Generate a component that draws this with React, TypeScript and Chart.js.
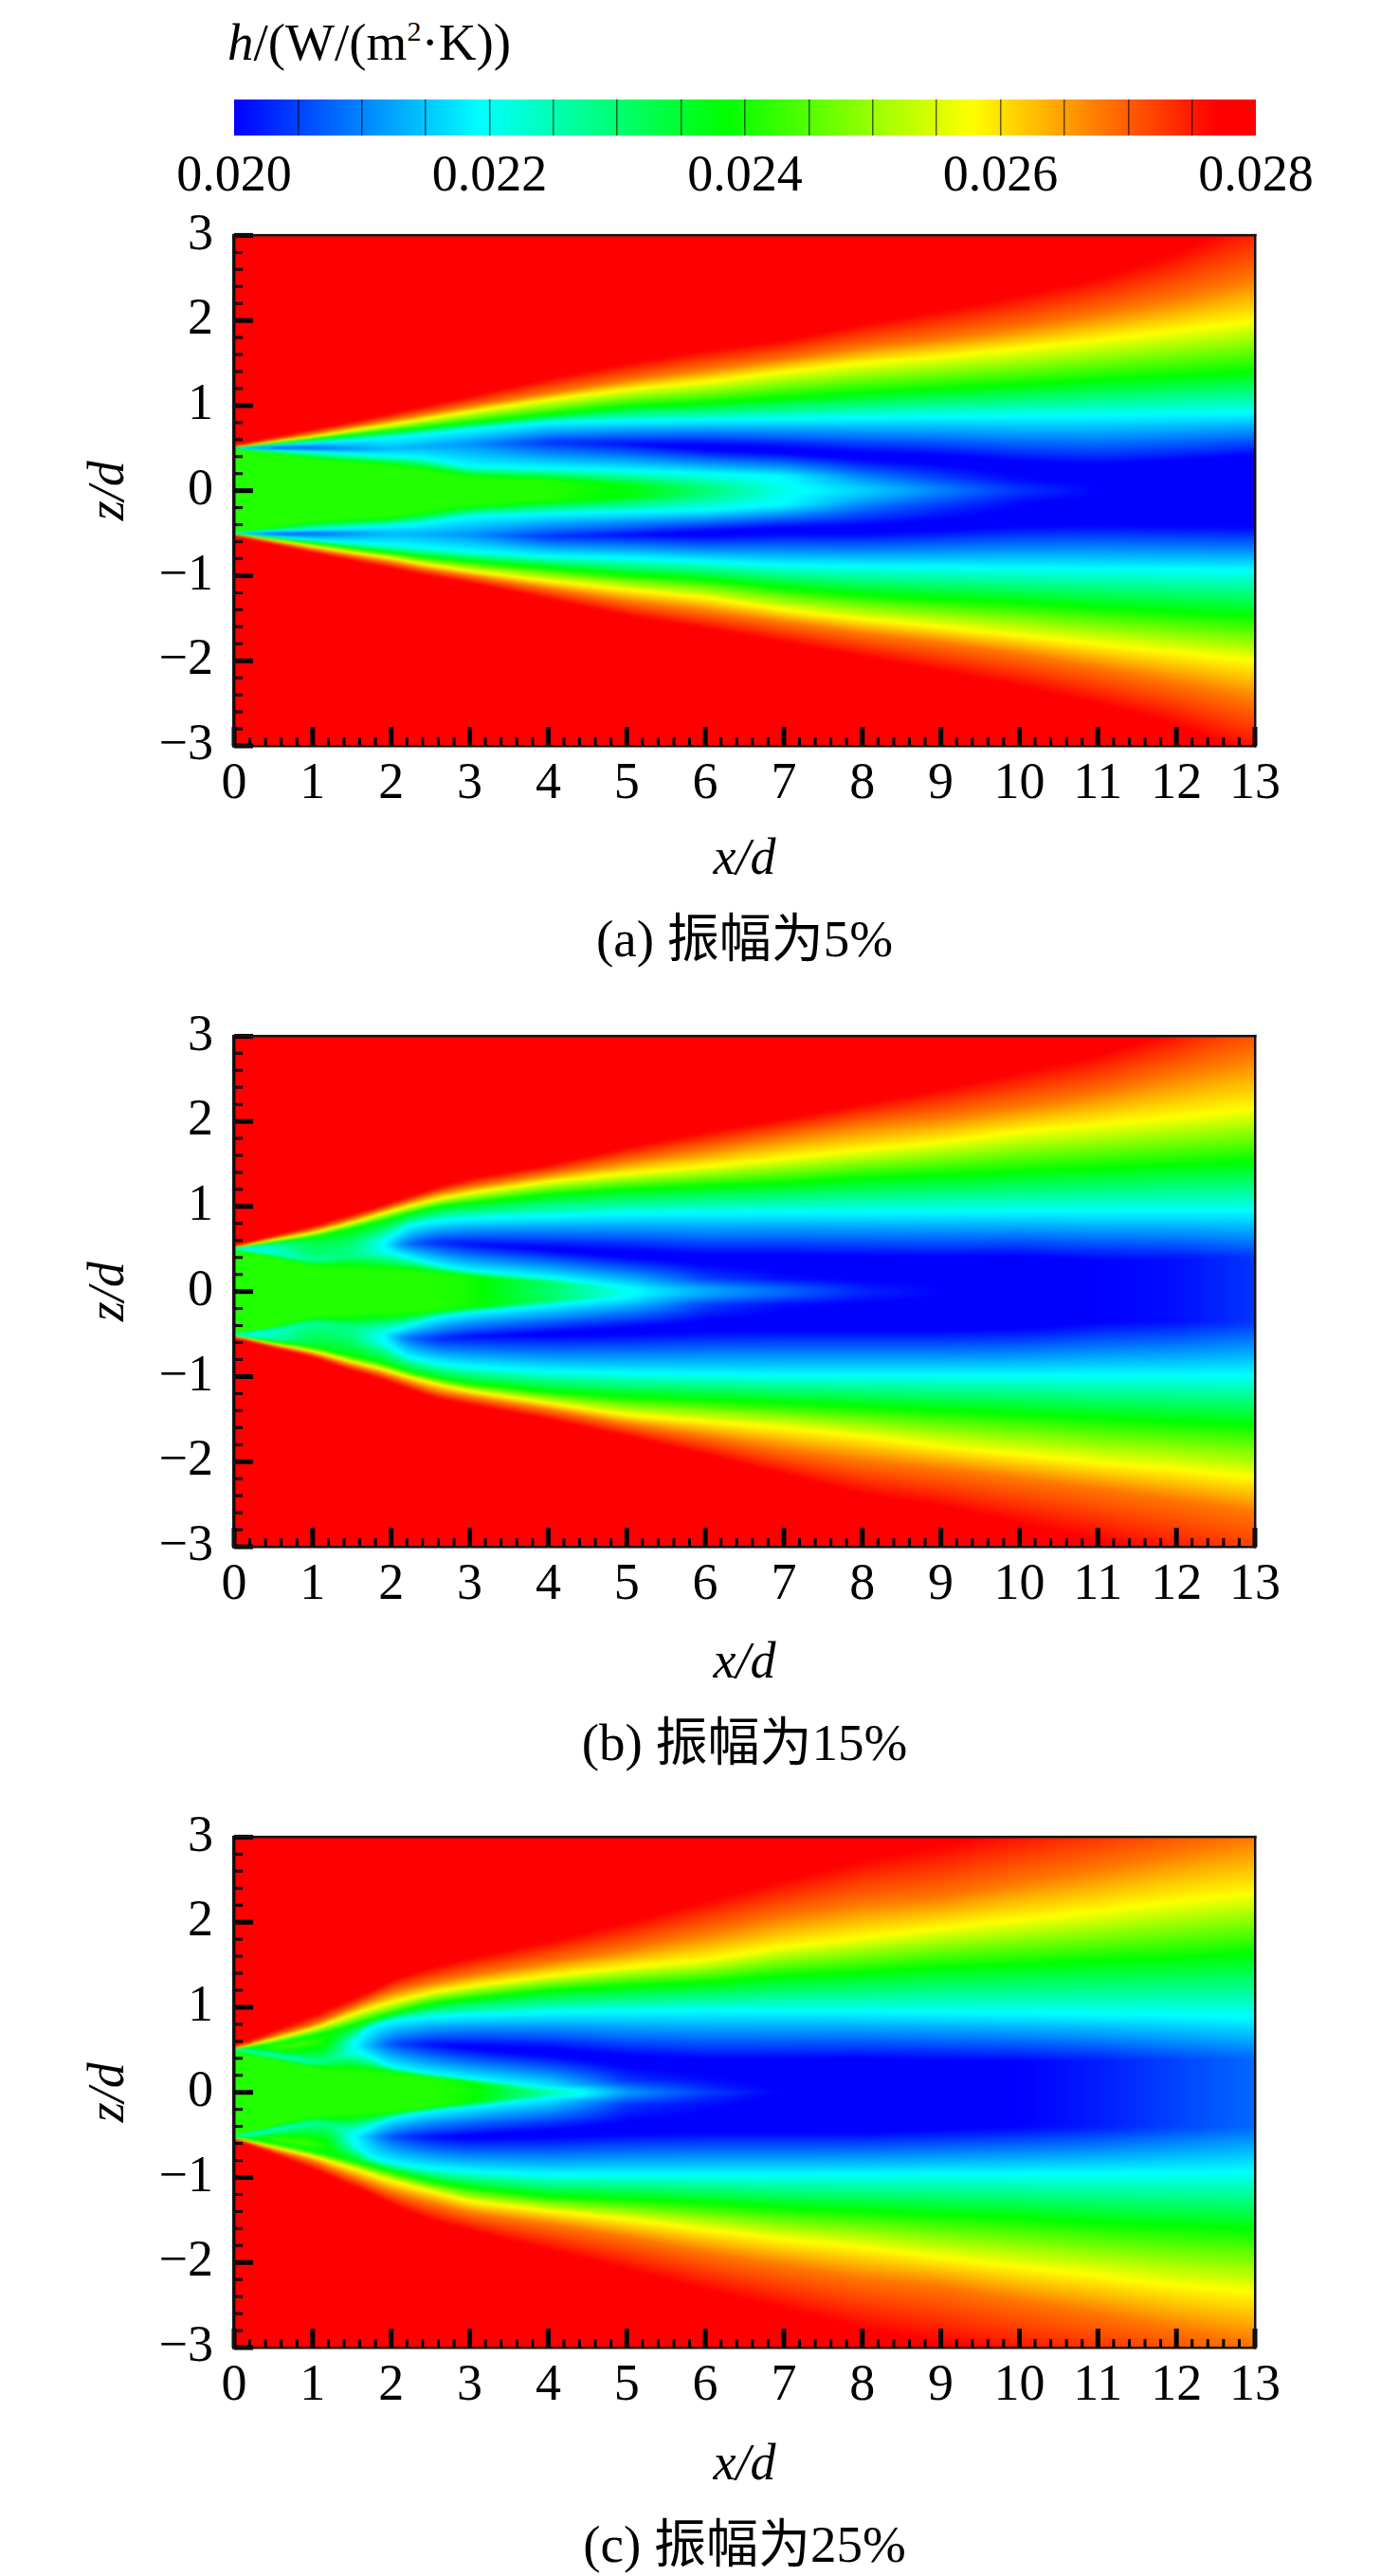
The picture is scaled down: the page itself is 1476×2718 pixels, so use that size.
import React, { useEffect, useRef } from "react";
import { Chart, registerables } from "chart.js";

Chart.register(...registerables);

// ---------- colour scale ----------
const barMin = 0.02;
const barMax = 0.028;
const barLevels = [0.02, 0.0205, 0.021, 0.0215, 0.022, 0.0225, 0.023, 0.0235, 0.024, 0.0245, 0.025, 0.0255, 0.026, 0.0265, 0.027, 0.0275, 0.028];
const stopValues = [0.02, 0.021925, 0.02385, 0.025775, 0.0277, 0.028];
const stopColors = [[0, 0, 255], [0, 255, 255], [0, 255, 0], [255, 255, 0], [255, 0, 0], [255, 0, 0]];
const hRed = 0.0277;
const hOrange = 0.0268;
const hYellow = 0.025775;
const hGreen = 0.02385;

// ---------- panel (a) 5% : z of each iso-band curve at each x station ----------
const xA = [0, 0.5, 1, 1.5, 2, 2.4, 3, 4, 5, 6, 7, 8, 9, 10, 11, 12, 13];
const aRedU = [0.53, 0.63, 0.72, 0.81, 0.91, 0.99, 1.11, 1.32, 1.5, 1.65, 1.77, 1.96, 2.12, 2.3, 2.5, 2.8, 3.2];
const aOrangeU = [0.515, 0.595, 0.67, 0.75, 0.83, 0.895, 0.995, 1.15, 1.3, 1.43, 1.55, 1.69, 1.79, 1.92, 2.08, 2.26, 2.5];
const aYellowU = [0.51, 0.575, 0.635, 0.71, 0.78, 0.84, 0.93, 1.07, 1.19, 1.28, 1.4, 1.5, 1.58, 1.67, 1.77, 1.88, 2.0];
const aGreenU = [0.505, 0.555, 0.605, 0.655, 0.7, 0.74, 0.8, 0.895, 0.99, 1.03, 1.09, 1.15, 1.2, 1.245, 1.3, 1.35, 1.4];
const aCyanU = [0.5, 0.535, 0.565, 0.595, 0.625, 0.66, 0.72, 0.8, 0.82, 0.83, 0.84, 0.855, 0.865, 0.875, 0.885, 0.9, 0.915];
const aMinU = [0.5, 0.5, 0.5, 0.495, 0.49, 0.52, 0.55, 0.565, 0.55, 0.51, 0.47, 0.41, 0.37, 0.29, 0.25, 0.3, 0.37];
const aInCyanU = [0.495, 0.48, 0.46, 0.435, 0.41, 0.39, 0.285, 0.265, 0.24, 0.205, 0.17, 0.17, 0.15, 0.12, 0.1, 0.1, 0.1];
const aInGreenU = [0.49, 0.43, 0.37, 0.33, 0.295, 0.25, 0.16, 0.12, 0.06, 0.05, 0.05, 0.05, 0.05, 0.05, 0.05, 0.05, 0.05];
const aInGreenL = [-0.49, -0.425, -0.365, -0.335, -0.31, -0.25, -0.17, -0.11, -0.07, -0.05, -0.05, -0.05, -0.05, -0.05, -0.05, -0.05, -0.05];
const aInCyanL = [-0.495, -0.48, -0.46, -0.44, -0.415, -0.385, -0.305, -0.27, -0.25, -0.23, -0.17, -0.17, -0.15, -0.12, -0.1, -0.1, -0.1];
const aMinL = [-0.5, -0.5, -0.5, -0.5, -0.5, -0.51, -0.52, -0.54, -0.52, -0.5, -0.46, -0.46, -0.42, -0.365, -0.345, -0.36, -0.37];
const aCyanL = [-0.5, -0.54, -0.58, -0.61, -0.64, -0.67, -0.71, -0.77, -0.79, -0.83, -0.87, -0.885, -0.895, -0.905, -0.915, -0.92, -0.93];
const aGreenL = [-0.505, -0.56, -0.615, -0.675, -0.73, -0.78, -0.83, -0.905, -0.985, -1.04, -1.14, -1.22, -1.27, -1.31, -1.37, -1.42, -1.47];
const aYellowL = [-0.51, -0.585, -0.655, -0.725, -0.79, -0.86, -0.945, -1.06, -1.16, -1.255, -1.4, -1.51, -1.6, -1.7, -1.8, -1.9, -2.0];
const aOrangeL = [-0.515, -0.6, -0.685, -0.765, -0.84, -0.915, -1.0, -1.15, -1.3, -1.42, -1.55, -1.68, -1.79, -1.92, -2.08, -2.26, -2.48];
const aRedL = [-0.53, -0.63, -0.73, -0.82, -0.91, -0.99, -1.08, -1.275, -1.47, -1.62, -1.78, -1.95, -2.12, -2.3, -2.5, -2.75, -3.1];
// h on the curves that are not a fixed colour level
const aCyanH = [0.021925, 0.021925, 0.021925, 0.021925, 0.021925, 0.021925, 0.021925, 0.021925, 0.021925, 0.021925, 0.021925, 0.021925, 0.021925, 0.021925, 0.021925, 0.021925, 0.021925];
const aMinH = [0.0215, 0.02045, 0.0207, 0.0211, 0.0214, 0.0213, 0.0211, 0.0204, 0.0201, 0.0198, 0.0198, 0.0198, 0.0198, 0.0198, 0.0198, 0.0198, 0.0198];
const aInCyanH = [0.021925, 0.021925, 0.021925, 0.021925, 0.021925, 0.021925, 0.021925, 0.021925, 0.021925, 0.021925, 0.0219, 0.021, 0.0205, 0.0201, 0.0199, 0.0199, 0.0199];
const aInGreenH = [0.0241, 0.0241, 0.0241, 0.0241, 0.0241, 0.0241, 0.0241, 0.0241, 0.0238, 0.0229, 0.022, 0.0215, 0.0209, 0.0203, 0.02, 0.0198, 0.0198];
const aCenterH = [0.0241, 0.0241, 0.0241, 0.0241, 0.0241, 0.0241, 0.0241, 0.0241, 0.0238, 0.023, 0.0221, 0.0216, 0.021, 0.0204, 0.02, 0.0198, 0.0198];

// ---------- panel (b) 15% ----------
const xB = [0, 0.5, 1, 1.5, 1.85, 2.2, 2.6, 3, 4, 5, 6, 7, 8, 9, 10, 11, 12, 13];
const bRedU = [0.53, 0.66, 0.77, 0.91, 1.0, 1.11, 1.23, 1.33, 1.49, 1.7, 1.88, 2.03, 2.21, 2.38, 2.58, 2.78, 3.08, 3.5];
const bOrangeU = [0.525, 0.63, 0.72, 0.85, 0.95, 1.05, 1.16, 1.23, 1.38, 1.53, 1.67, 1.82, 1.96, 2.05, 2.18, 2.33, 2.55, 2.78];
const bYellowU = [0.52, 0.61, 0.69, 0.81, 0.91, 1.0, 1.09, 1.16, 1.295, 1.39, 1.47, 1.57, 1.665, 1.76, 1.88, 1.96, 2.055, 2.15];
const bGreenU = [0.51, 0.575, 0.635, 0.745, 0.82, 0.91, 1.0, 1.04, 1.14, 1.2, 1.24, 1.275, 1.335, 1.37, 1.41, 1.45, 1.49, 1.53];
const bCyanU = [0.505, 0.55, 0.59, 0.6, 0.56, 0.77, 0.83, 0.855, 0.885, 0.915, 0.925, 0.935, 0.935, 0.935, 0.94, 0.94, 0.945, 0.945];
const bMinU = [0.5, 0.52, 0.5, 0.52, 0.54, 0.56, 0.575, 0.555, 0.5, 0.44, 0.38, 0.38, 0.36, 0.35, 0.36, 0.37, 0.38, 0.4];
const bInCyanU = [0.495, 0.44, 0.355, 0.42, 0.47, 0.41, 0.31, 0.245, 0.17, 0.05, 0.15, 0.15, 0.14, 0.12, 0.1, 0.1, 0.1, 0.1];
const bInGreenU = [0.49, 0.4, 0.3, 0.27, 0.26, 0.25, 0.21, 0.18, 0.1, 0.02, 0.05, 0.05, 0.05, 0.05, 0.05, 0.05, 0.05, 0.05];
const bInGreenL = [-0.495, -0.41, -0.3, -0.27, -0.26, -0.25, -0.21, -0.18, -0.1, -0.03, -0.05, -0.05, -0.05, -0.05, -0.05, -0.05, -0.05, -0.05];
const bInCyanL = [-0.5, -0.45, -0.36, -0.42, -0.47, -0.41, -0.3, -0.25, -0.165, -0.065, -0.15, -0.15, -0.14, -0.12, -0.1, -0.1, -0.1, -0.1];
const bMinL = [-0.505, -0.52, -0.52, -0.52, -0.515, -0.55, -0.56, -0.53, -0.495, -0.455, -0.415, -0.4, -0.4, -0.4, -0.38, -0.36, -0.35, -0.35];
const bCyanL = [-0.51, -0.555, -0.6, -0.61, -0.56, -0.765, -0.84, -0.88, -0.935, -0.955, -0.97, -0.98, -0.98, -0.98, -0.98, -0.98, -0.98, -0.98];
const bGreenL = [-0.515, -0.59, -0.65, -0.76, -0.83, -0.93, -1.02, -1.08, -1.175, -1.235, -1.27, -1.31, -1.35, -1.39, -1.43, -1.485, -1.525, -1.565];
const bYellowL = [-0.52, -0.62, -0.7, -0.825, -0.9, -1.0, -1.09, -1.17, -1.31, -1.45, -1.525, -1.6, -1.7, -1.82, -1.915, -2.01, -2.09, -2.19];
const bOrangeL = [-0.53, -0.635, -0.73, -0.87, -0.95, -1.06, -1.18, -1.24, -1.39, -1.56, -1.7, -1.86, -1.99, -2.09, -2.2, -2.32, -2.45, -2.6];
const bRedL = [-0.54, -0.66, -0.77, -0.93, -1.02, -1.14, -1.26, -1.33, -1.5, -1.7, -1.915, -2.15, -2.38, -2.52, -2.72, -2.92, -3.15, -3.45];
const bCyanH = [0.0221, 0.0226, 0.0234, 0.0232, 0.021925, 0.021925, 0.021925, 0.021925, 0.021925, 0.021925, 0.021925, 0.021925, 0.021925, 0.021925, 0.021925, 0.021925, 0.021925, 0.021925];
const bMinH = [0.022, 0.0224, 0.0232, 0.0229, 0.0221, 0.0208, 0.0203, 0.0201, 0.0199, 0.0198, 0.0198, 0.0198, 0.0198, 0.0198, 0.0198, 0.02, 0.0201, 0.0204];
const bInCyanH = [0.022, 0.0223, 0.0227, 0.0229, 0.0221, 0.021925, 0.021925, 0.021925, 0.021925, 0.021925, 0.0205, 0.0201, 0.02, 0.0199, 0.0199, 0.02, 0.0201, 0.0204];
const bInGreenH = [0.0241, 0.0241, 0.0241, 0.0241, 0.0241, 0.0241, 0.0241, 0.024, 0.0232, 0.022, 0.0212, 0.0207, 0.0202, 0.02, 0.0199, 0.02, 0.0201, 0.0204];
const bCenterH = [0.0241, 0.0241, 0.0241, 0.0241, 0.0241, 0.0241, 0.0241, 0.024, 0.023, 0.022, 0.0213, 0.0208, 0.0203, 0.02, 0.0199, 0.02, 0.0201, 0.0204];

// ---------- panel (c) 25% ----------
const xC = [0, 0.5, 1, 1.25, 1.45, 1.7, 2, 2.5, 3, 4, 5, 6, 7, 8, 9, 10, 11, 12, 13];
const cRedU = [0.54, 0.72, 0.9, 1.0, 1.08, 1.17, 1.32, 1.47, 1.58, 1.78, 2.0, 2.25, 2.5, 2.73, 2.9, 3.1, 3.3, 3.5, 3.8];
const cOrangeU = [0.52, 0.66, 0.79, 0.89, 0.97, 1.07, 1.18, 1.29, 1.38, 1.53, 1.68, 1.87, 2.07, 2.22, 2.3, 2.47, 2.63, 2.82, 3.0];
const cYellowU = [0.51, 0.63, 0.75, 0.83, 0.9, 0.98, 1.06, 1.175, 1.25, 1.37, 1.47, 1.555, 1.71, 1.82, 1.93, 2.03, 2.13, 2.245, 2.34];
const cGreenU = [0.505, 0.57, 0.67, 0.72, 0.77, 0.84, 0.92, 1.04, 1.1, 1.195, 1.25, 1.29, 1.37, 1.41, 1.47, 1.505, 1.545, 1.58, 1.64];
const cCyanU = [0.505, 0.53, 0.6, 0.6, 0.535, 0.765, 0.845, 0.885, 0.91, 0.94, 0.95, 0.96, 0.955, 0.95, 0.94, 0.93, 0.92, 0.905, 0.885];
const cMinU = [0.5, 0.5, 0.5, 0.51, 0.515, 0.55, 0.57, 0.56, 0.53, 0.475, 0.38, 0.33, 0.33, 0.34, 0.35, 0.36, 0.37, 0.38, 0.4];
const cInCyanU = [0.495, 0.43, 0.335, 0.38, 0.47, 0.435, 0.3, 0.22, 0.165, 0.05, 0.14, 0.14, 0.14, 0.13, 0.12, 0.1, 0.1, 0.1, 0.1];
const cInGreenU = [0.49, 0.39, 0.29, 0.27, 0.26, 0.25, 0.23, 0.17, 0.12, 0.02, 0.06, 0.06, 0.05, 0.05, 0.05, 0.05, 0.05, 0.05, 0.05];
const cInGreenL = [-0.51, -0.39, -0.29, -0.27, -0.26, -0.25, -0.23, -0.17, -0.12, -0.03, -0.06, -0.06, -0.05, -0.05, -0.05, -0.05, -0.05, -0.05, -0.05];
const cInCyanL = [-0.515, -0.44, -0.34, -0.38, -0.47, -0.42, -0.3, -0.22, -0.17, -0.06, -0.14, -0.14, -0.14, -0.13, -0.12, -0.1, -0.1, -0.1, -0.1];
const cMinL = [-0.52, -0.52, -0.52, -0.52, -0.52, -0.52, -0.52, -0.525, -0.52, -0.48, -0.44, -0.42, -0.42, -0.42, -0.41, -0.4, -0.4, -0.4, -0.4];
const cCyanL = [-0.52, -0.545, -0.6, -0.6, -0.54, -0.75, -0.83, -0.89, -0.925, -0.965, -0.965, -0.965, -0.965, -0.96, -0.955, -0.95, -0.945, -0.94, -0.93];
const cGreenL = [-0.525, -0.595, -0.69, -0.745, -0.79, -0.85, -0.925, -1.04, -1.12, -1.22, -1.255, -1.295, -1.355, -1.39, -1.43, -1.47, -1.53, -1.57, -1.61];
const cYellowL = [-0.53, -0.645, -0.75, -0.82, -0.87, -0.95, -1.04, -1.16, -1.28, -1.39, -1.49, -1.61, -1.725, -1.82, -1.94, -2.05, -2.15, -2.27, -2.35];
const cOrangeL = [-0.54, -0.675, -0.8, -0.9, -0.97, -1.06, -1.17, -1.3, -1.42, -1.55, -1.7, -1.88, -2.04, -2.19, -2.28, -2.45, -2.6, -2.78, -2.95];
const cRedL = [-0.55, -0.72, -0.9, -1.0, -1.08, -1.17, -1.315, -1.5, -1.62, -1.85, -2.08, -2.32, -2.55, -2.78, -2.95, -3.12, -3.3, -3.5, -3.8];
const cCyanH = [0.023, 0.0243, 0.0243, 0.0238, 0.021925, 0.021925, 0.021925, 0.021925, 0.021925, 0.021925, 0.021925, 0.021925, 0.021925, 0.021925, 0.021925, 0.021925, 0.021925, 0.021925, 0.021925];
const cMinH = [0.0225, 0.0241, 0.0238, 0.0234, 0.0222, 0.0214, 0.0206, 0.0201, 0.0199, 0.0198, 0.0198, 0.0198, 0.0198, 0.0198, 0.0199, 0.02, 0.0202, 0.0205, 0.0208];
const cInCyanH = [0.022, 0.0222, 0.0226, 0.0229, 0.0222, 0.021925, 0.021925, 0.021925, 0.021925, 0.021925, 0.0204, 0.0201, 0.0199, 0.0198, 0.0199, 0.02, 0.0202, 0.0205, 0.0208];
const cInGreenH = [0.0241, 0.0241, 0.0241, 0.0241, 0.0241, 0.0241, 0.0241, 0.0241, 0.0239, 0.0225, 0.0209, 0.0203, 0.0199, 0.0198, 0.02, 0.02, 0.0202, 0.0205, 0.0208];
const cCenterH = [0.0241, 0.0241, 0.0241, 0.0241, 0.0241, 0.0241, 0.0241, 0.0241, 0.024, 0.0226, 0.0212, 0.0205, 0.02, 0.0198, 0.02, 0.02, 0.0202, 0.0205, 0.0208];

const captions = ["(a) 振幅为5%", "(b) 振幅为15%", "(c) 振幅为25%"];
const xLabel = "x/d";
const zLabel = "z/d";
const FONT = '"Liberation Serif", "Noto Sans CJK SC", serif';

function colorAt(v: number): number[] {
  if (v <= stopValues[0]) return stopColors[0];
  for (let i = 1; i < stopValues.length; i++) {
    if (v <= stopValues[i]) {
      const t = (v - stopValues[i - 1]) / (stopValues[i] - stopValues[i - 1]);
      const a = stopColors[i - 1];
      const b = stopColors[i];
      return [a[0] + (b[0] - a[0]) * t, a[1] + (b[1] - a[1]) * t, a[2] + (b[2] - a[2]) * t];
    }
  }
  return stopColors[stopColors.length - 1];
}

function curves(x: number[], rows: [string, number[], number[] | number][]) {
  return rows.map(([label, z, h]) => ({
    label,
    data: x.map((xv, i) => ({ x: xv, y: z[i] })),
    levels: x.map((_, i) => (typeof h === "number" ? h : h[i])),
    showLine: false,
    pointRadius: 0,
  }));
}

const zero = (x: number[]) => x.map(() => 0);

const panelA = curves(xA, [
  ["red", aRedU, hRed], ["orange", aOrangeU, hOrange], ["yellow", aYellowU, hYellow], ["green", aGreenU, hGreen], ["cyan", aCyanU, aCyanH],
  ["min", aMinU, aMinH], ["inner cyan", aInCyanU, aInCyanH], ["inner green", aInGreenU, aInGreenH], ["centre", zero(xA), aCenterH],
  ["inner green low", aInGreenL, aInGreenH], ["inner cyan low", aInCyanL, aInCyanH], ["min low", aMinL, aMinH],
  ["cyan low", aCyanL, aCyanH], ["green low", aGreenL, hGreen], ["yellow low", aYellowL, hYellow], ["orange low", aOrangeL, hOrange], ["red low", aRedL, hRed],
]);
const panelB = curves(xB, [
  ["red", bRedU, hRed], ["orange", bOrangeU, hOrange], ["yellow", bYellowU, hYellow], ["green", bGreenU, hGreen], ["cyan", bCyanU, bCyanH],
  ["min", bMinU, bMinH], ["inner cyan", bInCyanU, bInCyanH], ["inner green", bInGreenU, bInGreenH], ["centre", zero(xB), bCenterH],
  ["inner green low", bInGreenL, bInGreenH], ["inner cyan low", bInCyanL, bInCyanH], ["min low", bMinL, bMinH],
  ["cyan low", bCyanL, bCyanH], ["green low", bGreenL, hGreen], ["yellow low", bYellowL, hYellow], ["orange low", bOrangeL, hOrange], ["red low", bRedL, hRed],
]);
const panelC = curves(xC, [
  ["red", cRedU, hRed], ["orange", cOrangeU, hOrange], ["yellow", cYellowU, hYellow], ["green", cGreenU, hGreen], ["cyan", cCyanU, cCyanH],
  ["min", cMinU, cMinH], ["inner cyan", cInCyanU, cInCyanH], ["inner green", cInGreenU, cInGreenH], ["centre", zero(xC), cCenterH],
  ["inner green low", cInGreenL, cInGreenH], ["inner cyan low", cInCyanL, cInCyanH], ["min low", cMinL, cMinH],
  ["cyan low", cCyanL, cCyanH], ["green low", cGreenL, hGreen], ["yellow low", cYellowL, hYellow], ["orange low", cOrangeL, hOrange], ["red low", cRedL, hRed],
]);

const fieldPlugin = {
  id: "field",
  beforeDatasetsDraw(chart: any) {
    const { ctx, chartArea: a, scales } = chart;
    const ds = chart.data.datasets;
    const stations: number[] = ds[0].data.map((p: any) => p.x);
    const w = Math.round(a.right - a.left);
    const h = Math.round(a.bottom - a.top);
    const off = document.createElement("canvas");
    off.width = w;
    off.height = h;
    const offCtx = off.getContext("2d") as CanvasRenderingContext2D;
    const img = offCtx.createImageData(w, h);
    const n = ds.length;
    const zk = new Array(n);
    const hk = new Array(n);
    const samples = [-0.12, 0, 0.12];
    const weights = [0.25, 0.5, 0.25];
    for (let px = 0; px < w; px++) {
      const xv = scales.x.getValueForPixel(a.left + px + 0.5);
      zk.fill(0);
      hk.fill(0);
      samples.forEach((d, si) => {
        const q = Math.min(13, Math.max(0, xv + d));
        let s = 0;
        while (s < stations.length - 2 && q > stations[s + 1]) s++;
        const t = (q - stations[s]) / (stations[s + 1] - stations[s]);
        for (let k = 0; k < n; k++) {
          zk[k] += weights[si] * (ds[k].data[s].y + (ds[k].data[s + 1].y - ds[k].data[s].y) * t);
          hk[k] += weights[si] * (ds[k].levels[s] + (ds[k].levels[s + 1] - ds[k].levels[s]) * t);
        }
      });
      let k = 0;
      for (let py = 0; py < h; py++) {
        const zv = scales.y.getValueForPixel(a.top + py + 0.5);
        while (k < n - 1 && zv < zk[k + 1]) k++;
        let v;
        if (zv >= zk[0]) v = hk[0];
        else if (k >= n - 1) v = hk[n - 1];
        else {
          const dz = zk[k] - zk[k + 1];
          v = dz > 1e-9 ? hk[k] + ((hk[k + 1] - hk[k]) * (zk[k] - zv)) / dz : hk[k + 1];
        }
        const c = colorAt(v);
        const o = (py * w + px) * 4;
        img.data[o] = c[0];
        img.data[o + 1] = c[1];
        img.data[o + 2] = c[2];
        img.data[o + 3] = 255;
      }
    }
    offCtx.putImageData(img, 0, 0);
    ctx.save();
    ctx.drawImage(off, a.left, a.top);
    ctx.beginPath();
    ctx.rect(a.left, a.top, w, h);
    ctx.clip();
    ctx.filter = "blur(1px)";
    ctx.drawImage(off, a.left, a.top);
    ctx.restore();
  },
};

const isWhole = (v: number) => Math.abs(v - Math.round(v)) < 1e-6;

const framePlugin = {
  id: "frame",
  afterDatasetsDraw(chart: any) {
    const { ctx, chartArea: a, scales } = chart;
    ctx.save();
    ctx.fillStyle = "#000";
    for (const t of scales.x.ticks) {
      const p = scales.x.getPixelForValue(t.value);
      const major = isWhole(t.value);
      const wd = major ? 5 : 3;
      const ln = major ? 20 : 9;
      ctx.fillRect(p - wd / 2, a.bottom - ln, wd, ln);
    }
    for (const t of scales.y.ticks) {
      const p = scales.y.getPixelForValue(t.value);
      const major = isWhole(t.value);
      const wd = major ? 5 : 3;
      const ln = major ? 20 : 9;
      ctx.fillRect(a.left, p - wd / 2, ln, wd);
    }
    ctx.fillStyle = "#111";
    ctx.fillRect(a.left - 2, a.top - 1.5, a.right - a.left + 3.5, 2.5);
    ctx.fillRect(a.left - 2, a.bottom - 1, a.right - a.left + 3.5, 2.5);
    ctx.fillRect(a.left - 2, a.top - 1.5, 3.5, a.bottom - a.top + 3);
    ctx.fillRect(a.right - 1, a.top - 1.5, 2.5, a.bottom - a.top + 3);
    ctx.restore();
  },
};

function PanelChart({ top, gap, datasets, caption }: { top: number; gap: number; datasets: any[]; caption: string }) {
  const ref = useRef<HTMLCanvasElement>(null);
  useEffect(() => {
    const chart = new Chart(ref.current as any, {
      type: "scatter",
      data: { datasets },
      plugins: [fieldPlugin, framePlugin],
      options: {
        animation: false,
        responsive: false,
        devicePixelRatio: 1,
        events: [],
        layout: { padding: { top: 50, right: 152, bottom: 0, left: 0 } },
        plugins: {
          legend: { display: false },
          tooltip: { enabled: false },
          title: {
            display: true,
            text: caption,
            position: "bottom",
            fullSize: false,
            color: "#000",
            padding: 0,
            font: { family: FONT, size: 55, weight: "normal", lineHeight: 1.2 },
          },
        },
        scales: {
          x: {
            type: "linear",
            min: 0,
            max: 13,
            afterFit: (s: any) => { s.height = 172 + gap; },
            grid: { display: false, drawTicks: false },
            border: { display: false },
            title: { display: true, text: xLabel, color: "#000", padding: { top: 0, bottom: 22 }, font: { family: FONT, size: 54, style: "italic", weight: "normal", lineHeight: 1.2 } },
            ticks: {
              stepSize: 0.2,
              autoSkip: false,
              maxRotation: 0,
              minRotation: 0,
              padding: 8,
              color: "#000",
              font: { family: FONT, size: 54, lineHeight: 1.2 },
              callback: (v: any) => (isWhole(v) ? String(Math.round(v)) : ""),
            },
          },
          y: {
            type: "linear",
            min: -3,
            max: 3,
            afterFit: (s: any) => { s.width = 247; },
            grid: { display: false, drawTicks: false },
            border: { display: false },
            title: { display: true, text: zLabel, color: "#000", padding: { top: 83, bottom: 0 }, font: { family: FONT, size: 54, style: "italic", weight: "normal", lineHeight: 1.2 } },
            ticks: {
              stepSize: 0.2,
              autoSkip: false,
              padding: 22,
              color: "#000",
              font: { family: FONT, size: 54, lineHeight: 1.2 },
              callback: (v: any) => (isWhole(v) ? String(Math.round(v)).replace("-", "\u2212") : ""),
            },
          },
        },
      } as any,
    });
    return () => chart.destroy();
  }, []);
  return <canvas ref={ref} width={1476} height={831 + gap} style={{ position: "absolute", left: 0, top: top - 50 }} />;
}

function ColorBar() {
  const ref = useRef<HTMLCanvasElement>(null);
  useEffect(() => {
    const fill = (ctx: any) => {
      const { chart } = ctx;
      const sx = chart.scales.x;
      if (!chart.chartArea || !sx) return "#000";
      const g = chart.ctx.createLinearGradient(sx.getPixelForValue(barMin), 0, sx.getPixelForValue(barMax), 0);
      stopValues.forEach((v, i) => {
        const c = stopColors[i];
        g.addColorStop((v - barMin) / (barMax - barMin), `rgb(${c[0]},${c[1]},${c[2]})`);
      });
      return g;
    };
    const chart = new Chart(ref.current as any, {
      type: "bar",
      data: {
        labels: ["h"],
        datasets: barLevels.slice(0, -1).map((lo, i) => ({
          label: String(lo),
          data: [[lo, barLevels[i + 1]]],
          backgroundColor: fill,
          borderWidth: 0,
          grouped: false,
          barPercentage: 1,
          categoryPercentage: 1,
        })),
      },
      options: {
        indexAxis: "y",
        animation: false,
        responsive: false,
        devicePixelRatio: 1,
        events: [],
        layout: { padding: { top: 60, right: 151, bottom: 0, left: 247 } },
        plugins: { legend: { display: false }, tooltip: { enabled: false } },
        scales: {
          y: { display: false },
          x: {
            type: "linear",
            min: barMin,
            max: barMax,
            afterFit: (s: any) => { s.height = 71; },
            border: { display: false },
            grid: {
              z: 1,
              drawTicks: false,
              lineWidth: 1.5,
              color: (c: any) => (c.index === 0 || c.index === barLevels.length - 1 ? "rgba(0,0,0,0)" : "rgba(0,0,0,0.6)"),
            },
            ticks: {
              stepSize: 0.0005,
              autoSkip: false,
              maxRotation: 0,
              minRotation: 0,
              padding: 11,
              color: "#000",
              font: { family: FONT, size: 54, lineHeight: 1.2 },
              callback: (v: any) => {
                const q = v / 0.002;
                return Math.abs(q - Math.round(q)) < 1e-6 ? v.toFixed(3) : "";
              },
            },
          },
        },
      } as any,
    });
    return () => chart.destroy();
  }, []);
  return <canvas ref={ref} width={1476} height={169} style={{ position: "absolute", left: 0, top: 45 }} />;
}

export default function App() {
  return (
    <div style={{ position: "absolute", left: 0, top: 0, width: 1476, height: 2718, background: "#fff", overflow: "hidden" }}>
      <div style={{ position: "absolute", left: 240, top: 14, fontFamily: FONT, fontSize: 55, lineHeight: "62px", color: "#000", whiteSpace: "nowrap" }}>
        <i>h</i>/(W/(m<span style={{ fontSize: 30, verticalAlign: 20, lineHeight: 0 }}>2</span>·K))
      </div>
      <ColorBar />
      <PanelChart top={244} gap={3} datasets={panelA} caption={captions[0]} />
      <PanelChart top={1089} gap={6} datasets={panelB} caption={captions[1]} />
      <PanelChart top={1934} gap={7} datasets={panelC} caption={captions[2]} />
    </div>
  );
}
